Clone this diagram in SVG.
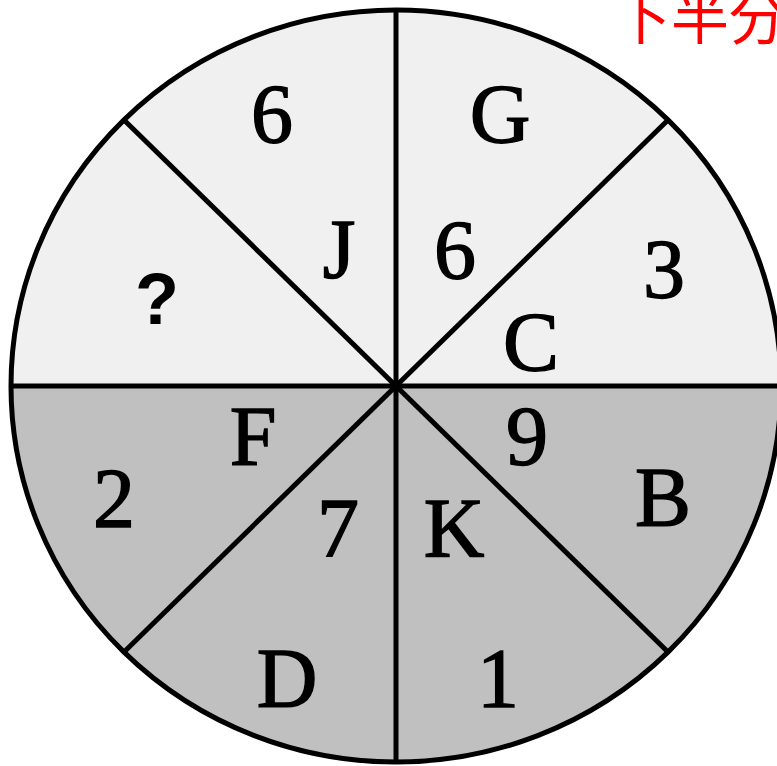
<svg xmlns="http://www.w3.org/2000/svg" width="777" height="766" viewBox="0 0 777 766">
<style>
.lbl{font-family:"Liberation Serif","DejaVu Serif",serif;font-size:84px;fill:#000;stroke:#000;stroke-width:1.4;text-anchor:middle}
.q{font-family:"Liberation Sans",Arial,sans-serif;font-size:72px;font-weight:bold;fill:#000;text-anchor:middle}
.ln{stroke:#000;stroke-width:5;fill:none}
.red{font-family:"Noto Sans CJK JP","Noto Sans CJK SC",sans-serif;font-size:58px;fill:#ff0000}
</style>
<g id="background">
<rect width="777" height="766" fill="#ffffff"/>
</g>
<g id="upper-half">
<path d="M11,386 A385,376 0 0 1 781,386 Z" fill="#f0f0f0"/>
</g>
<g id="lower-half">
<path d="M11,386 A385,376 0 0 0 781,386 Z" fill="#c0c0c0"/>
</g>
<g id="connectors">
<ellipse class="ln" cx="396" cy="386" rx="385" ry="376"/>
<line class="ln" x1="396" y1="10" x2="396" y2="762"/>
<line class="ln" x1="11" y1="386" x2="781" y2="386"/>
<line class="ln" x1="124" y1="120" x2="668" y2="652"/>
<line class="ln" x1="668" y1="120" x2="124" y2="652"/>
</g>
<g id="sector-top-left">
<text class="lbl" x="272" y="143">6</text>
<text class="lbl" x="339" y="278">J</text>
</g>
<g id="sector-top-right">
<text class="lbl" x="500" y="143">G</text>
<text class="lbl" x="455" y="279">6</text>
</g>
<g id="sector-right-upper">
<text class="lbl" x="664" y="298">3</text>
<text class="lbl" x="531" y="371">C</text>
</g>
<g id="sector-left-upper">
<text class="q" x="157" y="324">?</text>
</g>
<g id="sector-left-lower">
<text class="lbl" x="253" y="465">F</text>
<text class="lbl" x="114" y="527">2</text>
</g>
<g id="sector-right-lower">
<text class="lbl" x="527" y="465">9</text>
<text class="lbl" x="663" y="526">B</text>
</g>
<g id="sector-bottom-left">
<text class="lbl" x="338" y="557">7</text>
<text class="lbl" x="287" y="707">D</text>
</g>
<g id="sector-bottom-right">
<text class="lbl" x="454" y="557">K</text>
<text class="lbl" x="498" y="707">1</text>
</g>
<g id="caption">
<text class="red" x="613" y="39">下半分</text>
</g>
</svg>
